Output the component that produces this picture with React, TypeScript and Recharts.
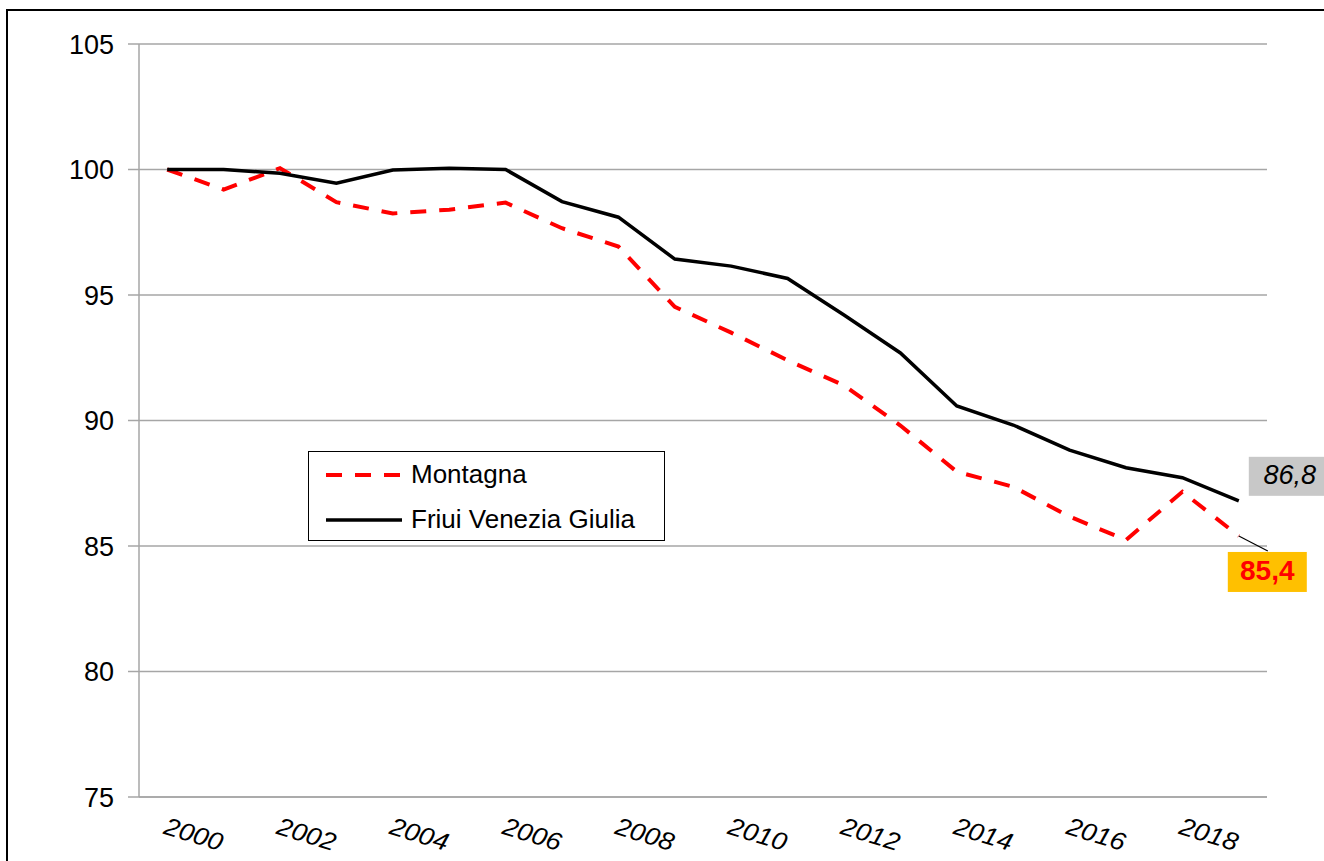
import React from "react";
import { LineChart, Line, XAxis, YAxis, CartesianGrid, Legend } from "recharts";

const years = [
  2000, 2001, 2002, 2003, 2004, 2005, 2006, 2007, 2008, 2009,
  2010, 2011, 2012, 2013, 2014, 2015, 2016, 2017, 2018, 2019,
];
const montagna = [
  100, 99.2, 100.05, 98.7, 98.25, 98.4, 98.68, 97.66, 96.93, 94.53,
  93.5, 92.4, 91.4, 89.8, 87.96, 87.36, 86.17, 85.24, 87.16, 85.4,
];
const fvg = [
  100, 100, 99.85, 99.45, 99.98, 100.05, 100, 98.72, 98.1, 96.43,
  96.15, 95.66, 94.2, 92.69, 90.58, 89.82, 88.82, 88.12, 87.72, 86.8,
];
const yTicks = [75, 80, 85, 90, 95, 100, 105];
const labelYears = [2000, 2002, 2004, 2006, 2008, 2010, 2012, 2014, 2016, 2018];

const data = years.map((year, i) => ({
  idx: i,
  year,
  montagna: montagna[i],
  fvg: fvg[i],
}));

// tick marks sit between categories, like the Excel original
const boundaries = [...years.map((_, i) => i - 0.5), years.length - 0.5];
const labelIdx = labelYears.map((y) => years.indexOf(y));
const last = years.length - 1;

const FONT = '"Liberation Sans", Arial, sans-serif';
const GRID = "#a6a6a6";

function YearTick({ x, y, payload }: any) {
  const year = years[payload.value];
  return (
    <g transform={`translate(${x + 26},${y + 23})`}>
      <text
        transform="rotate(17) scale(1.08,1)"
        textAnchor="middle"
        dominantBaseline="middle"
        fontStyle="italic"
        fontSize={25}
        fill="#000"
      >
        {year}
      </text>
    </g>
  );
}

function fmt(v: number) {
  return v.toFixed(1).replace(".", ",");
}

function FvgLabel({ x, y, index, value }: any) {
  if (index !== last) return null;
  return (
    <g>
      <rect x={x + 10} y={y - 44} width={82} height={39} fill="#c8c8c8" />
      <text
        x={x + 51}
        y={y - 24}
        textAnchor="middle"
        dominantBaseline="middle"
        fontStyle="italic"
        fontSize={27}
        fill="#000"
      >
        {fmt(value)}
      </text>
    </g>
  );
}

function MontagnaLabel({ x, y, index, value }: any) {
  if (index !== last) return null;
  return (
    <g>
      <line x1={x} y1={y} x2={x + 29} y2={y + 15} stroke="#000" strokeWidth={1.2} />
      <rect x={x - 11} y={y + 16} width={79} height={40} fill="#ffc000" />
      <text
        x={x + 28.5}
        y={y + 37}
        textAnchor="middle"
        dominantBaseline="middle"
        fontWeight="bold"
        fontSize={28}
        fill="#ff0000"
      >
        {fmt(value)}
      </text>
    </g>
  );
}

function LegendBox() {
  const row = (sample: React.ReactNode, label: string) => (
    <div style={{ display: "flex", alignItems: "center", height: 45 }}>
      <svg width={94} height={8} style={{ flex: "none" }}>
        {sample}
      </svg>
      <span style={{ fontSize: 26, color: "#000", whiteSpace: "nowrap", marginLeft: 8 }}>{label}</span>
    </div>
  );
  return (
    <div
      style={{
        width: 357,
        height: 90,
        border: "1.5px solid #000",
        background: "#fff",
        boxSizing: "border-box",
        fontFamily: FONT,
      }}
    >
      {row(
        <line x1={17} y1={4} x2={93} y2={4} stroke="#ff0000" strokeWidth={4} strokeDasharray="16 13" />,
        "Montagna"
      )}
      {row(<line x1={17} y1={4} x2={93} y2={4} stroke="#000" strokeWidth={3.5} />, "Friui Venezia Giulia")}
    </div>
  );
}

export default function App() {
  return (
    <div style={{ position: "fixed", left: 0, top: 0, width: 1324, height: 861, background: "#fff", fontFamily: FONT }}>
      {/* outer chart frame, only top and left edges are visible */}
      <div
        style={{
          position: "fixed",
          left: 6,
          top: 9,
          width: 2000,
          height: 2000,
          borderTop: "2px solid #000",
          borderLeft: "2px solid #000",
        }}
      />
      <LineChart width={1324} height={861} data={data} margin={{ top: 44, right: 57, bottom: 0, left: 0 }}>
        <CartesianGrid horizontal vertical={false} stroke={GRID} strokeWidth={1.5} />
        <XAxis
          xAxisId={0}
          type="number"
          dataKey="idx"
          domain={[-0.5, years.length - 0.5]}
          ticks={boundaries}
          tick={false}
          tickSize={8}
          height={8}
          stroke={GRID}
          strokeWidth={1.5}
        />
        <XAxis
          xAxisId="labels"
          type="number"
          dataKey="idx"
          domain={[-0.5, years.length - 0.5]}
          ticks={labelIdx}
          tick={<YearTick />}
          tickLine={false}
          axisLine={false}
          height={56}
          interval={0}
        />
        <YAxis
          type="number"
          domain={[75, 105]}
          ticks={yTicks}
          width={139}
          tickSize={11}
          tickMargin={14}
          stroke={GRID}
          strokeWidth={1.5}
          tick={{ fontSize: 27, fill: "#000" }}
          interval={0}
        />
        <Legend
          layout="horizontal"
          verticalAlign="middle"
          align="center"
          content={() => <LegendBox />}
          wrapperStyle={{ left: 308, top: 451, width: 357, height: 90 }}
        />
        <Line
          type="linear"
          dataKey="montagna"
          name="Montagna"
          stroke="#ff0000"
          strokeWidth={4}
          strokeDasharray="16 13"
          dot={false}
          isAnimationActive={false}
          label={<MontagnaLabel />}
        />
        <Line
          type="linear"
          dataKey="fvg"
          name="Friui Venezia Giulia"
          stroke="#000"
          strokeWidth={3.5}
          dot={false}
          isAnimationActive={false}
          label={<FvgLabel />}
        />
      </LineChart>
    </div>
  );
}
